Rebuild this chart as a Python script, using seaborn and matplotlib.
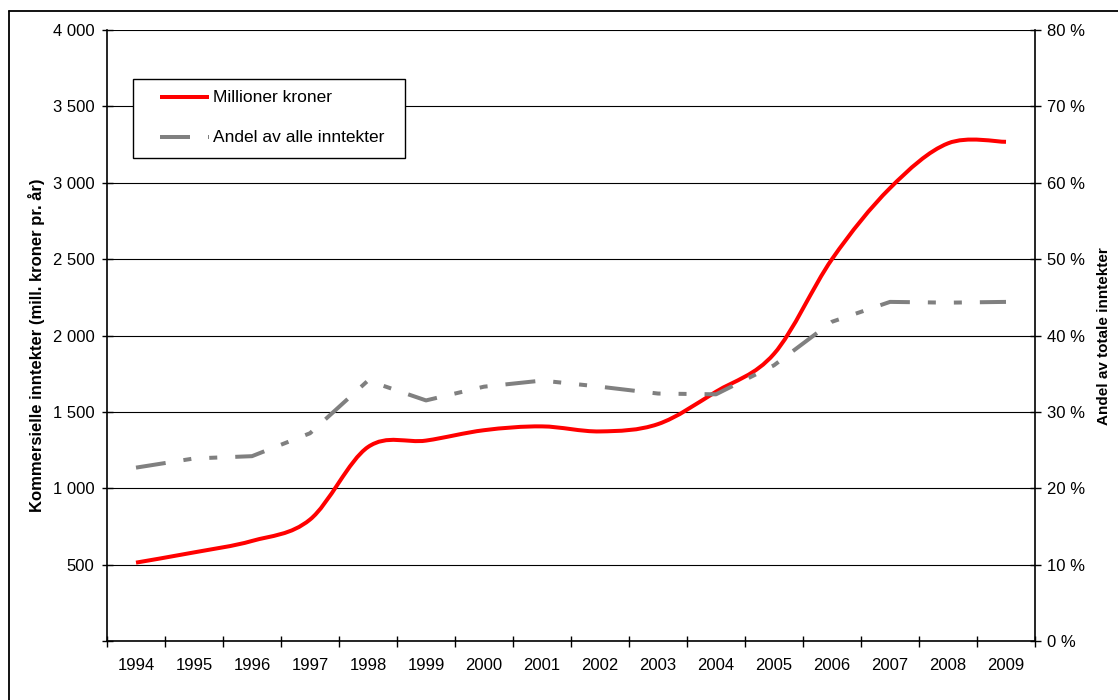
import numpy as np
import pandas as pd
import matplotlib
matplotlib.use("Agg")
import matplotlib.pyplot as plt
from matplotlib.path import Path
from matplotlib.patches import PathPatch, Rectangle
from matplotlib.lines import Line2D
import seaborn as sns

# Commercial income, 1994-2009
years = ["1994", "1995", "1996", "1997", "1998", "1999", "2000", "2001",
         "2002", "2003", "2004", "2005", "2006", "2007", "2008", "2009"]
mill_kroner = [513, 580, 655, 795, 1270, 1312, 1380, 1405,
               1372, 1420, 1632, 1880, 2500, 2965, 3258, 3268]
andel_pct = [22.7, 23.9, 24.2, 27.2, 34.1, 31.5, 33.3, 34.1,
             33.3, 32.4, 32.3, 36.1, 41.8, 44.4, 44.3, 44.4]

left_ticks = [0, 500, 1000, 1500, 2000, 2500, 3000, 3500, 4000]
left_labels = ["", "500", "1 000", "1 500", "2 000", "2 500", "3 000", "3 500", "4 000"]
right_ticks = [0, 10, 20, 30, 40, 50, 60, 70, 80]
right_labels = [f"{t} %" for t in right_ticks]

label_left = "Kommersielle inntekter (mill. kroner pr. år)"
label_right = "Andel av totale inntekter"
legend_labels = ["Millioner kroner", "Andel av alle inntekter"]

sns.set_theme(style="white")
plt.rcParams["font.family"] = ["Liberation Sans", "DejaVu Sans"]
plt.rcParams["text.color"] = "black"

W, H = 1118, 700
RED = "#ff0000"
GREY = "#808080"
PX = 72 / 100  # points per pixel at dpi 100
dash_pattern = (7.5, 4.5, 2, 4.5, 2, 4.5)


def fx(px):
    return px / W


def fy(py):
    return 1 - py / H


df = pd.DataFrame({"pos": np.arange(len(years)), "mill": mill_kroner, "andel": andel_pct})

fig = plt.figure(figsize=(W / 100, H / 100), dpi=100)
ax = fig.add_axes([fx(107), fy(641), 928 / W, 611 / H])
ax2 = ax.twinx()

# smoothed curve (Catmull-Rom style Bezier) through the yearly values
x = df["pos"].to_numpy(float)
y = df["mill"].to_numpy(float)
verts = [(x[0], y[0])]
codes = [Path.MOVETO]
n = len(x)
for i in range(n - 1):
    x0, y0 = (x[i - 1], y[i - 1]) if i > 0 else (x[i], y[i])
    x3, y3 = (x[i + 2], y[i + 2]) if i + 2 < n else (x[i + 1], y[i + 1])
    c1 = (x[i] + (x[i + 1] - x0) / 6, y[i] + (y[i + 1] - y0) / 6)
    c2 = (x[i + 1] - (x3 - x[i]) / 6, y[i + 1] - (y3 - y[i]) / 6)
    verts += [c1, c2, (x[i + 1], y[i + 1])]
    codes += [Path.CURVE4] * 3
ax.add_patch(PathPatch(Path(verts, codes), facecolor="none", edgecolor=RED,
                       lw=4 * PX, capstyle="butt", joinstyle="round", zorder=3))

# share of total income on the secondary axis
sns.lineplot(data=df, x="pos", y="andel", ax=ax2, color=GREY, lw=4 * PX,
             linestyle=(0, dash_pattern), zorder=4)

ax.set_xlim(-0.5, len(years) - 0.5)
ax.set_ylim(0, 4000)
ax2.set_ylim(0, 80)

ax.set_yticks(left_ticks)
ax.set_yticklabels(left_labels)
ax2.set_yticks(right_ticks)
ax2.set_yticklabels(right_labels)

ax.set_xticks(np.arange(len(years) + 1) - 0.5)
ax.set_xticklabels([])
ax.set_xticks(np.arange(len(years)), minor=True)
ax.set_xticklabels(years, minor=True)

ax.grid(axis="y", color="black", lw=0.8, zorder=1)
ax.set_axisbelow(True)

for a in (ax, ax2):
    a.set_xlabel("")
    a.set_ylabel("")
    for s in a.spines.values():
        s.set_visible(False)
ax.spines["left"].set_visible(True)
ax.spines["bottom"].set_visible(True)
ax2.spines["right"].set_visible(True)
for s in (ax.spines["left"], ax.spines["bottom"], ax2.spines["right"]):
    s.set_color("black")
    s.set_linewidth(1.2)

ax.tick_params(axis="y", which="major", direction="inout", length=11 * PX, width=1,
               color="black", labelsize=12, pad=5, labelcolor="black", left=True)
ax.tick_params(axis="x", which="major", direction="inout", length=11 * PX, width=1,
               color="black", bottom=True, labelbottom=False)
ax.tick_params(axis="x", which="minor", length=0, labelsize=12, pad=12,
               labelcolor="black", bottom=True)
ax2.tick_params(axis="y", which="major", direction="inout", length=11 * PX, width=1,
                color="black", labelsize=12, pad=5, labelcolor="black", right=True)

fig.text(fx(37), fy(345), label_left, rotation=90, ha="center", va="center",
         fontsize=12, fontweight="bold", color="black")
fig.text(fx(1104), fy(336), label_right, rotation=90, ha="center", va="center",
         fontsize=11, fontweight="bold", color="black")

# legend box
fig.add_artist(Rectangle((fx(133), fy(158)), fx(405) - fx(133), fy(79) - fy(158),
                         transform=fig.transFigure, facecolor="white",
                         edgecolor="black", lw=1.0, zorder=10))
legend_styles = [dict(color=RED, lw=4 * PX, solid_capstyle="butt"),
                 dict(color=GREY, lw=4 * PX, linestyle=(0, dash_pattern))]
for row, (lab, style) in enumerate(zip(legend_labels, legend_styles)):
    yy = 97 + 40 * row
    fig.add_artist(Line2D([fx(160), fx(209)], [fy(yy), fy(yy)],
                          transform=fig.transFigure, zorder=11, **style))
    fig.text(fx(213), fy(yy + 1), lab, ha="left", va="center", fontsize=12.5,
             color="black", zorder=12)

# outer chart border
fig.add_artist(Line2D([fx(9), fx(9)], [0, fy(11)], color="black", lw=1.3,
                      transform=fig.transFigure))
fig.add_artist(Line2D([fx(9), 1], [fy(11), fy(11)], color="black", lw=1.3,
                      transform=fig.transFigure))

fig.savefig("out.png", dpi=100)
